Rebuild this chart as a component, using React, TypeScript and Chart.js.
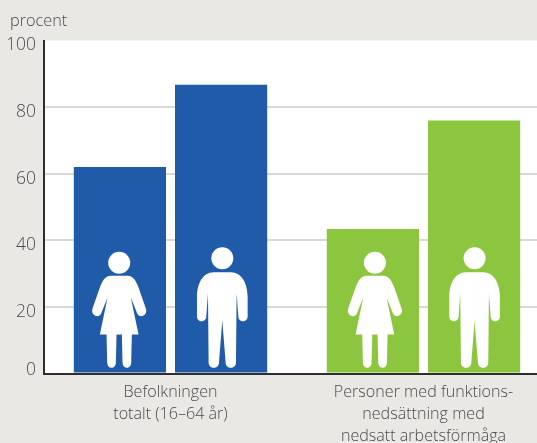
import React, { useEffect, useRef } from "react";
import { Chart, registerables } from "chart.js";

Chart.register(...registerables);

const categories: (string | string[])[] = [
  ["Befolkningen", "totalt (16–64 år)"],
  ["Personer med funktions-", "nedsättning med", "nedsatt arbetsförmåga"],
];
const women = [62, 43.4];
const men = [86.7, 76];
const groupColors = ["#1f5ba8", "#8cc63f"];
const yTicks = [0, 20, 40, 60, 80, 100];
const yUnit = "procent";

const BG = "#e9e8e4";
const TEXT = "#4a4a4c";
const FONT = '"Open Sans", sans-serif';

// Icon outlines: right half, mirrored when drawn; units are 1/3 px from (bar centre, baseline)
const WOMAN_HALF =
  "M-1 -293 L25 -293 C45 -293 52 -272 58 -258 L80 -195 C85 -180 74 -172 65 -172 C58 -172 54 -178 52 -185 L35 -228 L58 -117 L38 -117 L36 -33 C36 -12 10 -12 10 -33 L8 -117 L-1 -117 Z";
const MAN_HALF =
  "M-1 -304 L26 -304 C58 -304 76 -270 76 -230 L76 -172 C76 -152 48 -152 48 -172 L43 -240 L41 -33 C41 -12 10 -12 10 -33 L0 -158 L-1 -158 Z";
const icons = [
  { half: WOMAN_HALF, headY: -332, shift: [-0.7, 2] },
  { half: MAN_HALF, headY: -346, shift: [1.2, 0.5] },
];

const decorPlugin = {
  id: "decor",
  beforeDraw(chart: any) {
    const { ctx, chartArea: a } = chart;
    ctx.save();
    ctx.fillStyle = BG;
    ctx.fillRect(0, 0, chart.width, chart.height);
    ctx.fillStyle = "#ffffff";
    ctx.fillRect(a.left, a.top, a.right - a.left, a.bottom - a.top);
    ctx.fillStyle = TEXT;
    ctx.font = `300 16.3px ${FONT}`;
    ctx.textAlign = "left";
    ctx.textBaseline = "alphabetic";
    ctx.fillText(yUnit, 10, 26);
    ctx.restore();
  },
  afterDatasetsDraw(chart: any) {
    const { ctx, chartArea: a } = chart;
    icons.forEach((icon, ds) => {
      const path = new Path2D(icon.half);
      chart.getDatasetMeta(ds).data.forEach((bar: any, i: number) => {
        ctx.save();
        ctx.translate(bar.x + icon.shift[i], a.bottom);
        ctx.scale(1 / 3, 1 / 3);
        ctx.fillStyle = "#ffffff";
        ctx.fill(path);
        ctx.scale(-1, 1);
        ctx.fill(path);
        ctx.beginPath();
        ctx.arc(0, icon.headY, 33, 0, Math.PI * 2);
        ctx.fill();
        ctx.restore();
      });
    });
  },
};

export default function App() {
  const ref = useRef<HTMLCanvasElement>(null);
  useEffect(() => {
    const chart = new Chart(ref.current!, {
      type: "bar",
      data: {
        labels: categories as any,
        datasets: [
          { label: "Kvinnor", data: women, backgroundColor: groupColors },
          { label: "Män", data: men, backgroundColor: groupColors },
        ],
      },
      plugins: [decorPlugin],
      options: {
        animation: false,
        responsive: false,
        layout: { padding: { top: 40.5, left: 0, right: 0, bottom: 0 } },
        plugins: { legend: { display: false }, tooltip: { enabled: false }, title: { display: false } },
        datasets: { bar: { categoryPercentage: 0.8, barPercentage: 0.911 } },
        scales: {
          x: {
            grid: { display: false },
            border: { display: true, color: "#2f2d2e", width: 2, z: 1 },
            ticks: {
              color: TEXT,
              font: { family: FONT, size: 16.1, weight: "300", lineHeight: 1.37 },
              padding: 0,
              maxRotation: 0,
              autoSkip: false,
            },
            afterFit(s: any) {
              s.height = 443 - 373.5;
            },
          },
          y: {
            min: 0,
            max: 100,
            afterBuildTicks(s: any) {
              s.ticks = yTicks.map((value) => ({ value }));
            },
            grid: {
              color: (c: any) => (c.tick && c.tick.value === 100 ? "rgba(0,0,0,0)" : "#d9d9d9"),
              lineWidth: 2,
              drawTicks: false,
            },
            border: { display: true, color: "#2f2d2e", width: 2, z: 1 },
            ticks: {
              color: TEXT,
              font: { family: FONT, size: 17.5, weight: "300", lineHeight: 1 },
              padding: 8,
              labelOffset: 5,
              callback: (v: any) => (v === 0 ? ["0", ""] : String(v)),
            },
            afterFit(s: any) {
              s.width = 44;
            },
          },
        },
      },
    } as any);
    return () => chart.destroy();
  }, []);
  return (
    <div style={{ position: "fixed", left: 0, top: 0, width: 537, height: 443, overflow: "hidden", background: BG }}>
      <canvas ref={ref} width={550} height={443} style={{ display: "block" }} />
    </div>
  );
}
